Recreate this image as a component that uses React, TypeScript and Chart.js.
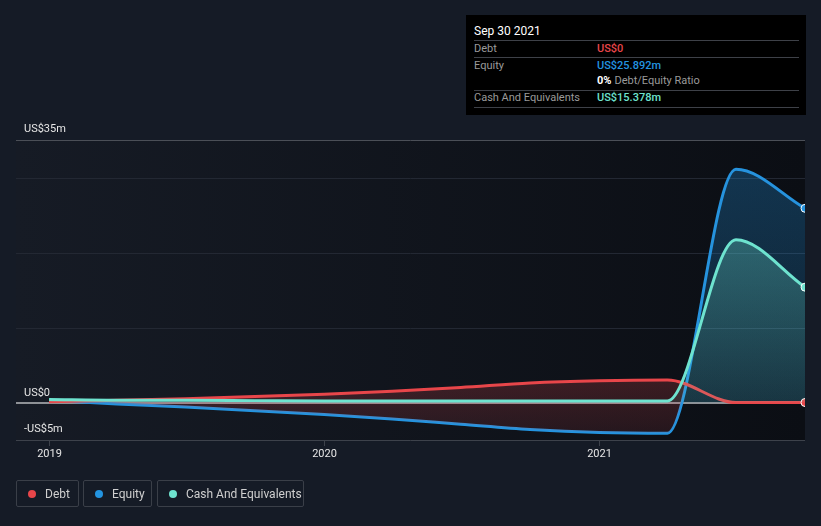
import React, { useEffect, useRef } from 'react';
import { Chart, registerables } from 'chart.js';
Chart.register(...registerables);

// Quarter-end dates as decimal years
const dates = [2019.0, 2019.247, 2019.496, 2019.748, 2020.0, 2020.247, 2020.496, 2020.748, 2021.0, 2021.247, 2021.496, 2021.747];
const debt = [0.1, 0.3, 0.5, 0.8, 1.1, 1.5, 2.0, 2.6, 2.9, 3.0, 0, 0];
const equity = [0.3, -0.2, -0.6, -1.1, -1.6, -2.2, -2.9, -3.6, -4.0, -4.1, 31.1, 25.892];
const cash = [0.4, 0.3, 0.3, 0.25, 0.2, 0.2, 0.2, 0.2, 0.2, 0.2, 21.7, 15.378];

const yLabelValues = [35, 0, -5];
const yLabelTexts = ['US$35m', 'US$0', '-US$5m'];
const gridValues = [30, 20, 10];
const xTickValues = [2019, 2020, 2021];
const xTickLabels = ['2019', '2020', '2021'];

const RED = '#e8464a';
const BLUE = '#2394e0';
const TEAL = '#6ee3cf';
const FONT = 'Roboto, "Noto Sans", sans-serif';

const decor = {
  id: 'decor',
  beforeDatasetsDraw(chart: any) {
    const { ctx, chartArea: a, scales } = chart;
    const x = scales.x;
    const y = scales.y;
    ctx.save();
    const g = ctx.createLinearGradient(a.left, 0, a.right, 0);
    g.addColorStop(0, '#161b25');
    g.addColorStop(1, '#0b0e14');
    ctx.fillStyle = g;
    ctx.fillRect(a.left, a.top, a.right - a.left, a.bottom - a.top);

    const hline = (v: number, color: string, w: number) => {
      const py = Math.round(y.getPixelForValue(v)) + (w % 2 ? 0.5 : 0);
      ctx.strokeStyle = color;
      ctx.lineWidth = w;
      ctx.beginPath();
      ctx.moveTo(a.left, py);
      ctx.lineTo(a.right, py);
      ctx.stroke();
    };
    gridValues.forEach((v) => hline(v, '#232833', 1));
    hline(35, '#4b4f57', 1);

    // bottom axis
    ctx.strokeStyle = '#3d424b';
    ctx.lineWidth = 1;
    ctx.beginPath();
    ctx.moveTo(a.left, a.bottom + 0.5);
    ctx.lineTo(a.right, a.bottom + 0.5);
    ctx.stroke();
    ctx.fillStyle = '#e6e6e6';
    ctx.font = '11px ' + FONT;
    ctx.textAlign = 'center';
    ctx.textBaseline = 'middle';
    xTickValues.forEach((v, i) => {
      const px = Math.round(x.getPixelForValue(v)) + 0.5;
      ctx.beginPath();
      ctx.moveTo(px, a.bottom);
      ctx.lineTo(px, a.bottom + 6);
      ctx.stroke();
      ctx.fillText(xTickLabels[i], px, a.bottom + 14);
    });

    hline(0, '#8e9196', 2);

    ctx.textAlign = 'left';
    ctx.textBaseline = 'alphabetic';
    ctx.fillStyle = '#e6e6e6';
    yLabelValues.forEach((v, i) => {
      const py = y.getPixelForValue(v);
      const off = v === -5 ? -8 : v === 0 ? -7 : -8;
      ctx.fillText(yLabelTexts[i], a.left + 8, py + off);
    });
    ctx.restore();
  },
};

function lastOnly(color: string) {
  return {
    pointRadius: dates.map((_, i) => (i === dates.length - 1 ? 4 : 0)),
    pointHoverRadius: 0,
    pointBackgroundColor: color,
    pointBorderColor: '#ffffff',
    pointBorderWidth: 1,
  };
}

export default function App() {
  const ref = useRef<HTMLCanvasElement>(null);
  useEffect(() => {
    document.body.style.margin = '0';
    document.body.style.background = '#151b26';
    const canvas = ref.current!;
    const ctx = canvas.getContext('2d')!;
    const top = 140;
    const bottom = 440;
    const blueG = ctx.createLinearGradient(0, top, 0, bottom);
    blueG.addColorStop(0, 'rgba(35,148,224,0.30)');
    blueG.addColorStop(1, 'rgba(35,148,224,0.12)');
    const tealG = ctx.createLinearGradient(0, 220, 0, 402);
    tealG.addColorStop(0, 'rgba(110,227,207,0.32)');
    tealG.addColorStop(1, 'rgba(110,227,207,0.10)');
    const redG = ctx.createLinearGradient(0, 378, 0, 436);
    redG.addColorStop(0, 'rgba(232,70,74,0.22)');
    redG.addColorStop(1, 'rgba(232,70,74,0.10)');

    const chart = new Chart(canvas, {
      type: 'line',
      data: {
        datasets: [
          {
            label: 'Debt',
            data: dates.map((d, i) => ({ x: d, y: debt[i] })),
            borderColor: RED,
            borderWidth: 3,
            order: 1,
            fill: { target: 1, above: redG, below: 'rgba(0,0,0,0)' },
            cubicInterpolationMode: 'monotone',
            ...lastOnly(RED),
          },
          {
            label: 'Equity',
            data: dates.map((d, i) => ({ x: d, y: equity[i] })),
            borderColor: BLUE,
            borderWidth: 3,
            order: 2,
            fill: { target: 'origin', above: blueG, below: 'rgba(0,0,0,0)' },
            cubicInterpolationMode: 'monotone',
            ...lastOnly(BLUE),
          },
          {
            label: 'Cash And Equivalents',
            data: dates.map((d, i) => ({ x: d, y: cash[i] })),
            borderColor: TEAL,
            borderWidth: 3,
            order: 0,
            fill: { target: 'origin', above: tealG, below: 'rgba(0,0,0,0)' },
            cubicInterpolationMode: 'monotone',
            ...lastOnly(TEAL),
          },
        ] as any,
      },
      options: {
        animation: false,
        responsive: false,
        events: [],
        layout: { padding: { left: 16, right: 16, top: 140, bottom: 86 } },
        scales: {
          x: { type: 'linear', min: 2018.88, max: 2021.747, display: false },
          y: { type: 'linear', min: -5, max: 35, display: false },
        },
        plugins: { legend: { display: false }, tooltip: { enabled: false } },
      },
      plugins: [decor],
    });
    return () => chart.destroy();
  }, []);

  const row: React.CSSProperties = {
    position: 'absolute',
    left: 8,
    right: 7,
    height: 17,
    display: 'flex',
    alignItems: 'center',
    fontSize: 11,
  };
  const label: React.CSSProperties = { width: 123, color: '#9a9a9a' };
  const sep = (t: number) => (
    <div style={{ position: 'absolute', left: 8, right: 7, top: t, height: 1, background: '#3e4148' }} />
  );
  const legendItems = [
    { name: 'Debt', color: RED, left: 16, width: 63 },
    { name: 'Equity', color: BLUE, left: 83, width: 69 },
    { name: 'Cash And Equivalents', color: TEAL, left: 157, width: 147 },
  ];

  return (
    <div style={{ position: 'fixed', left: 0, top: 0, width: 821, height: 526, background: '#151b26', fontFamily: FONT, overflow: 'hidden' }}>
      <canvas ref={ref} width={821} height={526} style={{ position: 'absolute', left: 0, top: 0 }} />
      <div style={{ position: 'absolute', left: 466, top: 15, width: 340, height: 100, background: '#000000' }}>
        <div style={{ position: 'absolute', left: 8, top: 9, fontSize: 12, color: '#ffffff', fontWeight: 400 }}>Sep 30 2021</div>
        {sep(25)}
        <div style={{ ...row, top: 25 }}>
          <span style={label}>Debt</span>
          <span style={{ color: RED, fontWeight: 500 }}>US$0</span>
        </div>
        {sep(42)}
        <div style={{ ...row, top: 42 }}>
          <span style={label}>Equity</span>
          <span style={{ color: BLUE, fontWeight: 500 }}>US$25.892m</span>
        </div>
        <div style={{ ...row, top: 57 }}>
          <span style={label}></span>
          <span style={{ color: '#ffffff', fontWeight: 700 }}>0%</span>
          <span style={{ color: '#9a9a9a', marginLeft: 3 }}>Debt/Equity Ratio</span>
        </div>
        {sep(75)}
        <div style={{ ...row, top: 74 }}>
          <span style={label}>Cash And Equivalents</span>
          <span style={{ color: TEAL, fontWeight: 500 }}>US$15.378m</span>
        </div>
        {sep(92)}
      </div>
      {legendItems.map((it) => (
        <div
          key={it.name}
          style={{
            position: 'absolute',
            left: it.left,
            top: 480,
            width: it.width,
            height: 27,
            boxSizing: 'border-box',
            border: '1px solid #3a3f48',
            borderRadius: 2,
            display: 'flex',
            alignItems: 'center',
            fontSize: 12,
            color: '#cfcfcf',
          }}
        >
          <span style={{ width: 8, height: 8, borderRadius: 4, background: it.color, marginLeft: 11, marginRight: 9 }} />
          <span>{it.name}</span>
        </div>
      ))}
    </div>
  );
}
